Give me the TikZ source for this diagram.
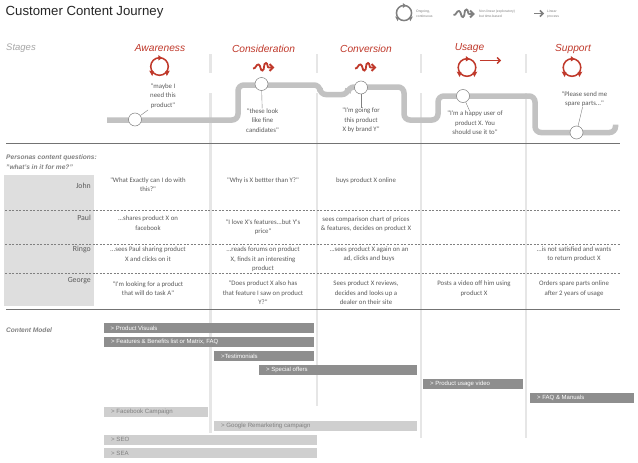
\documentclass[tikz,border=0pt]{standalone}
\usepackage{fontspec}
\setmainfont{Liberation Sans}
\newfontfamily\bodyfont{Carlito}
\usetikzlibrary{arrows.meta}
\definecolor{jred}{HTML}{C0392B}
\definecolor{jgrey}{HTML}{8E8E8E}
\definecolor{jlight}{HTML}{CFCFCF}
\definecolor{jpath}{HTML}{C2C2C2}
\definecolor{jband}{HTML}{E6E6E6}
\definecolor{jpersona}{HTML}{DEDEDE}
\definecolor{jtext}{HTML}{5A5A5A}
\tikzset{
  x=1pt,y=-1pt,
  stagelabel/.style={font=\fontsize{10.2}{12}\selectfont\itshape,text=jred,inner sep=0pt},
  bodytext/.style={font=\bodyfont\fontsize{6.8}{9.5}\selectfont,text=jtext,align=center,inner sep=0pt,anchor=center},
  namelabel/.style={font=\bodyfont\fontsize{7.8}{9}\selectfont,text=jtext,anchor=east,inner sep=0pt},
  sectionlabel/.style={font=\fontsize{6.6}{10}\selectfont\bfseries\itshape,text=gray,align=left,anchor=west,inner sep=0pt},
  legendtext/.style={font=\fontsize{3.4}{5}\selectfont,text=gray,align=left,anchor=west,inner sep=0pt},
  dividerline/.style={draw=jband,line width=2.2pt},
  dashrow/.style={draw=gray,line width=.4pt,dash pattern=on 2.2pt off 1.3pt},
  ruleline/.style={draw=gray!90!black,line width=.7pt},
  darkbar/.style={fill=jgrey,draw=none,inner sep=0pt},
  lightbar/.style={fill=jlight,draw=none,inner sep=0pt},
  darktxt/.style={font=\fontsize{6}{7}\selectfont,text=white,anchor=west,inner sep=0pt},
  lighttxt/.style={font=\fontsize{6.1}{7}\selectfont,text=gray,anchor=west,inner sep=0pt},
  stopdot/.style={circle,draw=gray,fill=white,line width=.5pt,minimum size=13pt,inner sep=0pt},
  leader/.style={draw=gray,line width=.4pt},
  cycleicon/.pic={
    \draw[line width=1.5pt,pic actions] (0,0) circle[radius=8.8];
    \fill[pic actions] (-1.2,-11.5) -- (2.8,-8.5) -- (-1.2,-6) -- cycle;
    \fill[pic actions] (10.3,4.2) -- (5.5,5) -- (7.3,9.5) -- cycle;
    \fill[pic actions] (-10.3,4.2) -- (-5.5,5) -- (-7.3,9.5) -- cycle;
  },
  waveicon/.pic={
    \draw[line width=1.8pt,pic actions] (-10,1.5) .. controls (-7,2) and (-7,-3) .. (-4.5,-2.5)
      .. controls (-2,-2) and (-3,4) .. (-.5,3.5) .. controls (2,3) and (0,-4) .. (3,-4)
      .. controls (5,-4) and (4,1) .. (6,.5) -- (9,.5);
    \draw[line width=1.8pt,pic actions] (6.5,-3) -- (10,.5) -- (6.5,4);
  },
}
\begin{document}
\begin{tikzpicture}
\useasboundingbox (0,0) rectangle (638,463);
\fill[white] (0,0) rectangle (638,463);

% persona panel and column dividers
\fill[jpersona] (4,175) rectangle (93.5,305.5);
\foreach \xx/\ya/\yb in {210.5/93/433, 317/93/406, 421/93/438, 526/93/438}{
  \draw[dividerline] (\xx,54) -- (\xx,73);
  \draw[dividerline] (\xx,\ya) -- (\xx,\yb);
}

% title and stages
\node[anchor=west,inner sep=0pt,font=\fontsize{13.2}{15}\selectfont,text=black!85] (title) at (5.5,12) {Customer Content Journey};
\node[anchor=west,inner sep=0pt,font=\fontsize{9.5}{12}\selectfont\itshape,text=gray!70] (stages) at (6,48.5) {Stages};
\node[stagelabel] (s1) at (160,48.5) {Awareness};
\node[stagelabel] (s2) at (263.5,48.5) {Consideration};
\node[stagelabel] (s3) at (366,48.5) {Conversion};
\node[stagelabel] (s4) at (469.5,48.5) {Usage};
\node[stagelabel] (s5) at (573,48.5) {Support};

% stage icons
\pic[jred] at (159.5,66.5) {cycleicon};
\pic[jred] at (263,67) {waveicon};
\pic[jred] at (365,67) {waveicon};
\pic[jred] at (467,67.5) {cycleicon};
\coordinate (usageA) at (479.5,60.5);
\coordinate (usageB) at (501,60.5);
\draw[jred,line width=1.3pt,-{Straight Barb[length=3pt,width=6pt]}] (usageA) -- (usageB);
\pic[jred] at (572,67.5) {cycleicon};

% legend
\pic[gray,scale=.86] at (404,13) {cycleicon};
\node[legendtext] (l1) at (416,14) {Ongoing,\\continuous};
\pic[gray] at (463.5,13.5) {waveicon};
\node[legendtext] (l2) at (479,14) {Non-linear (exploratory)\\but time-based};
\coordinate (legA) at (534,13.5);
\coordinate (legB) at (544,13.5);
\draw[gray,line width=1.5pt,-{Straight Barb[length=3pt,width=6pt]}] (legA) -- (legB);
\node[legendtext] (l3) at (547,14) {Linear\\process};

% journey line
\coordinate (j0) at (107,120);
\coordinate (j1) at (238,120);
\coordinate (j2) at (238,85);
\coordinate (j3) at (320,85);
\coordinate (j4) at (320,94.5);
\coordinate (j5) at (348,94.5);
\coordinate (j6) at (348,87);
\coordinate (j7) at (404,87);
\coordinate (j8) at (404,120);
\coordinate (j9) at (438,120);
\coordinate (j10) at (438,96);
\coordinate (j11) at (535,96);
\coordinate (j12) at (535,132.5);
\coordinate (j13) at (615.5,132.5);
\coordinate (j14) at (615.5,124.5);
\draw[jpath,line width=5.5pt,rounded corners=6pt]
  (j0) -- (j1) -- (j2) -- (j3) -- (j4) -- (j5) -- (j6) -- (j7) -- (j8) -- (j9) -- (j10) -- (j11) -- (j12) -- (j13) -- (j14);

% quotes
\node[bodytext] (q1) at (163,96) {"maybe I\\need this\\product"};
\node[bodytext] (q2) at (262.5,120.5) {"these look\\like fine\\candidates"};
\node[bodytext] (q3) at (361,120.5) {"I'm going for\\this product\\X by brand Y"};
\node[bodytext] (q4) at (475,123) {"I'm a happy user of\\product X. You\\should use it to"};
\node[bodytext] (q5) at (584.5,99) {"Please send me\\spare parts..."};

% stops
\node[stopdot] (d1) at (135,119.5) {};
\node[stopdot] (d2) at (261.5,84) {};
\node[stopdot] (d3) at (361,87.5) {};
\node[stopdot] (d4) at (463,96) {};
\node[stopdot] (d5) at (576.5,132.5) {};
\coordinate (d1end) at (148,110);
\draw[leader] (d1) -- (d1end);
\draw[leader] (d2) -- (q2);
\draw[leader] (d3) -- (q3);
\draw[leader] (d4) -- (q4);
\draw[leader] (d5) -- (q5);

% rules
\coordinate (ra) at (6,143.5); \coordinate (rb) at (620,143.5);
\coordinate (rc) at (6,309); \coordinate (rd) at (620,309);
\draw[ruleline] (ra) -- (rb);
\draw[ruleline,line width=.9pt] (rc) -- (rd);
\foreach \yy in {210.5,244.5,273.5}{
  \draw[dashrow] (5,\yy) -- (620,\yy);
}

\node[sectionlabel] (persona) at (6,162) {Personas content questions:\\"what's in it for me?"};
\node[namelabel] (n1) at (91,186) {John};
\node[namelabel] (n2) at (91,217.5) {Paul};
\node[namelabel] (n3) at (91,249) {Ringo};
\node[namelabel] (n4) at (91,281) {George};

% persona cells
\node[bodytext] (c11) at (148,184.5) {"What Exactly can I do with\\this?"};
\node[bodytext] (c12) at (263,180.5) {"Why is X bettter than Y?"};
\node[bodytext] (c13) at (366,180.5) {buys product X online};
\node[bodytext] (c21) at (148,223) {...shares product X on\\facebook};
\node[bodytext] (c22) at (263,227) {"I love X's features...but Y's\\price"};
\node[bodytext] (c23) at (366,224) {sees comparison chart of prices\\\& features, decides on product X};
\node[bodytext] (c31) at (148,254) {...sees Paul sharing product\\X and clicks on it};
\node[bodytext] (c32) at (263,259.5) {...reads forums on product\\X, finds it an interesting\\product};
\node[bodytext] (c33) at (369,254) {...sees product X again on an\\ad, clicks and buys};
\node[bodytext] (c35) at (574,254) {...is not satisfied and wants\\to return product X};
\node[bodytext] (c41) at (148,288.5) {"I'm looking for a product\\that will do task A"};
\node[bodytext] (c42) at (263,293) {"Does product X also has\\that feature I saw on product\\Y?"};
\node[bodytext] (c43) at (366,293) {Sees product X reviews,\\decides and looks up a\\dealer on their site};
\node[bodytext] (c44) at (474,288.5) {Posts a video off him using\\product X};
\node[bodytext] (c45) at (574,288.5) {Orders spare parts online\\after 2 years of usage};

% content model
\node[sectionlabel] (cm) at (6,330.5) {Content Model};
\foreach \xa/\ya/\xb/\yb/\lab/\st in {
  103.5/323/314/333/{> Product Visuals}/dark,
  104/337/314/347/{> Features \& Benefits list or Matrix, FAQ}/dark,
  214/351/314/361/{>Testimonials}/dark,
  259/365/417/375/{> Special offers}/dark,
  423/378.5/523/388.5/{> Product usage video}/dark,
  530/392.5/634/402.5/{> FAQ \& Manuals}/dark,
  104/406.5/208/416.5/{> Facebook Campaign}/light,
  214/420.5/417/430.5/{> Google Remarketing campaign}/light,
  104/434.5/317/444.5/{> SEO}/light,
  104/448/317/458/{> SEA}/light}{
  \fill[\st bar] (\xa,\ya) rectangle (\xb,\yb);
  \node[\st txt] at ({\xa+7},{(\ya+\yb)/2}) {\lab};
}
\end{tikzpicture}
\end{document}
